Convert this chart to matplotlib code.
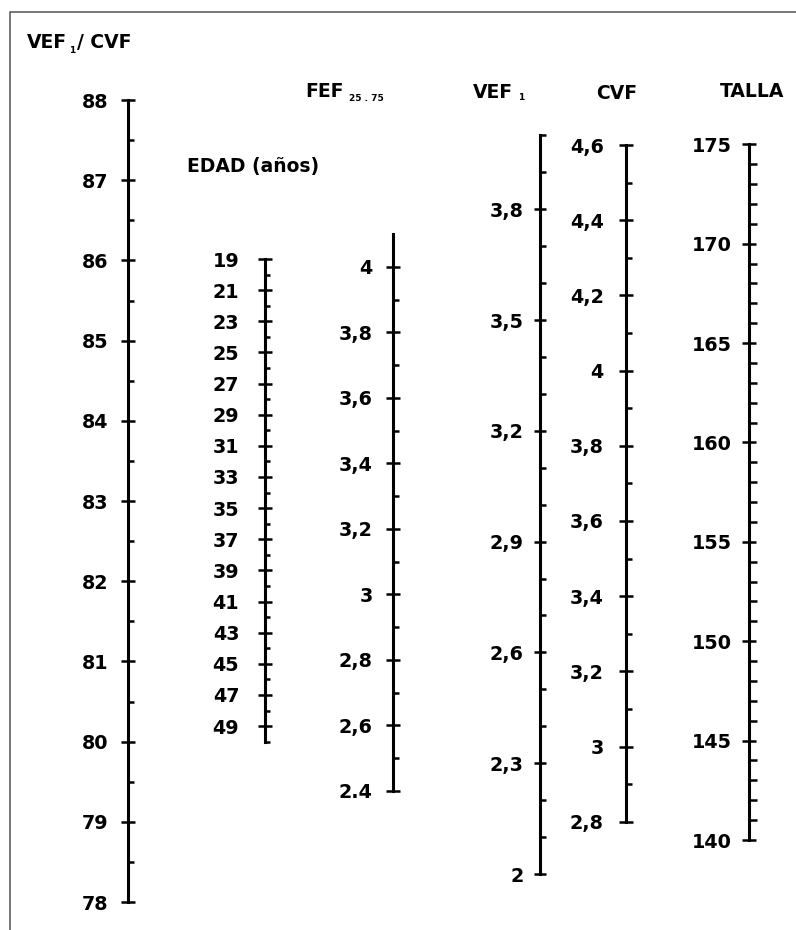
import matplotlib
matplotlib.use("Agg")
import matplotlib.pyplot as plt
from matplotlib.lines import Line2D

# ---------------- data ----------------
ratio_ticks = [78, 79, 80, 81, 82, 83, 84, 85, 86, 87, 88]
ratio_labels = ["78", "79", "80", "81", "82", "83", "84", "85", "86", "87", "88"]
ratio_minor = [78.5, 79.5, 80.5, 81.5, 82.5, 83.5, 84.5, 85.5, 86.5, 87.5]
ratio_range = (78, 88)

edad_ticks = [19, 21, 23, 25, 27, 29, 31, 33, 35, 37, 39, 41, 43, 45, 47, 49]
edad_labels = ["19", "21", "23", "25", "27", "29", "31", "33", "35", "37",
               "39", "41", "43", "45", "47", "49"]
edad_minor = [20, 22, 24, 26, 28, 30, 32, 34, 36, 38, 40, 42, 44, 46, 48, 50]
edad_range = (19, 50)

fef_ticks = [2.4, 2.6, 2.8, 3.0, 3.2, 3.4, 3.6, 3.8, 4.0]
fef_labels = ["2.4", "2,6", "2,8", "3", "3,2", "3,4", "3,6", "3,8", "4"]
fef_minor = [2.5, 2.7, 2.9, 3.1, 3.3, 3.5, 3.7, 3.9]
fef_range = (2.4, 4.1)

vef_ticks = [2.0, 2.3, 2.6, 2.9, 3.2, 3.5, 3.8]
vef_labels = ["2", "2,3", "2,6", "2,9", "3,2", "3,5", "3,8"]
vef_minor = [2.1, 2.2, 2.4, 2.5, 2.7, 2.8, 3.0, 3.1, 3.3, 3.4, 3.6, 3.7, 3.9, 4.0]
vef_range = (2.0, 4.0)

cvf_ticks = [2.8, 3.0, 3.2, 3.4, 3.6, 3.8, 4.0, 4.2, 4.4, 4.6]
cvf_labels = ["2,8", "3", "3,2", "3,4", "3,6", "3,8", "4", "4,2", "4,4", "4,6"]
cvf_minor = [2.9, 3.1, 3.3, 3.5, 3.7, 3.9, 4.1, 4.3, 4.5]
cvf_range = (2.8, 4.6)

talla_ticks = [140, 145, 150, 155, 160, 165, 170, 175]
talla_labels = ["140", "145", "150", "155", "160", "165", "170", "175"]
talla_minor = [141, 142, 143, 144, 146, 147, 148, 149, 151, 152, 153, 154,
               156, 157, 158, 159, 161, 162, 163, 164, 166, 167, 168, 169,
               171, 172, 173, 174]
talla_range = (140, 175)

# ---------------- layout ----------------
W, H = 796, 930
fig = plt.figure(figsize=(W / 100, H / 100), dpi=100)
fig.patch.set_facecolor("white")

FS_TICK = 13.8
FS_TITLE = 13.5
FS_SUB = 6.5


def fx(x):
    return x / W


def fy(y):
    return 1 - y / H


def scale(x_line, v_top, y_top, v_bot, y_bot, rng, majors, labels, minors,
          pad, major_len=10, minor_len=4.3):
    ax = fig.add_axes([fx(x_line), fy(y_bot), 0.002, (y_bot - y_top) / H])
    ax.set_ylim(v_bot, v_top)
    ax.set_xlim(0, 1)
    for s in ["top", "right", "bottom"]:
        ax.spines[s].set_visible(False)
    ax.spines["left"].set_linewidth(2.2)
    ax.spines["left"].set_bounds(rng[0], rng[1])
    ax.patch.set_visible(False)
    ax.xaxis.set_visible(False)
    ax.set_yticks(majors)
    ax.set_yticklabels(labels)
    ax.set_yticks(minors, minor=True)
    ax.tick_params(axis="y", which="major", direction="inout", length=major_len,
                   width=1.8, pad=pad, labelsize=FS_TICK, colors="black")
    ax.tick_params(axis="y", which="minor", direction="in", length=minor_len,
                   width=1.8, colors="black")
    for t in ax.get_yticklabels():
        t.set_fontweight("bold")
    return ax


scale(128.3, 88, 100, 78, 902, ratio_range, ratio_ticks, ratio_labels, ratio_minor, pad=9.4)
scale(265, 19, 259, 50, 741.7, edad_range, edad_ticks, edad_labels, edad_minor, pad=13.5, minor_len=3.5)
scale(392.7, 4.1, 234, 2.4, 791, fef_range, fef_ticks, fef_labels, fef_minor, pad=9.4)
scale(540, 4.0, 135.4, 2.0, 874, vef_range, vef_ticks, vef_labels, vef_minor, pad=7.3, major_len=9)
scale(625.7, 4.6, 145, 2.8, 821.7, cvf_range, cvf_ticks, cvf_labels, cvf_minor, pad=10.9)
scale(749, 175, 144.3, 140, 840, talla_range, talla_ticks, talla_labels, talla_minor, pad=7.5, minor_len=5.5)

# ---------------- titles ----------------
def title(txt, x, y, size=FS_TITLE):
    fig.text(fx(x), fy(y), txt, fontsize=size, fontweight="bold",
             ha="left", va="baseline", color="black")


title("VEF", 27, 48.3)
title("1", 69, 52.7, FS_SUB)
title("/ CVF", 77, 48.3)
title("FEF", 305, 97.3)
title("25 . 75", 349, 101, FS_SUB)
title("EDAD (años)", 187, 171.7)
title("VEF", 473, 98)
title("1", 518, 100, FS_SUB)
title("CVF", 596, 99)
title("TALLA", 720, 97)

# frame (top and left edges of the original border)
fig.add_artist(Line2D([fx(9.5), fx(9.5), 1.02], [-0.02, fy(12), fy(12)],
                      transform=fig.transFigure, color="#606060", lw=1.2))

fig.savefig("out.png", dpi=100, facecolor="white")
